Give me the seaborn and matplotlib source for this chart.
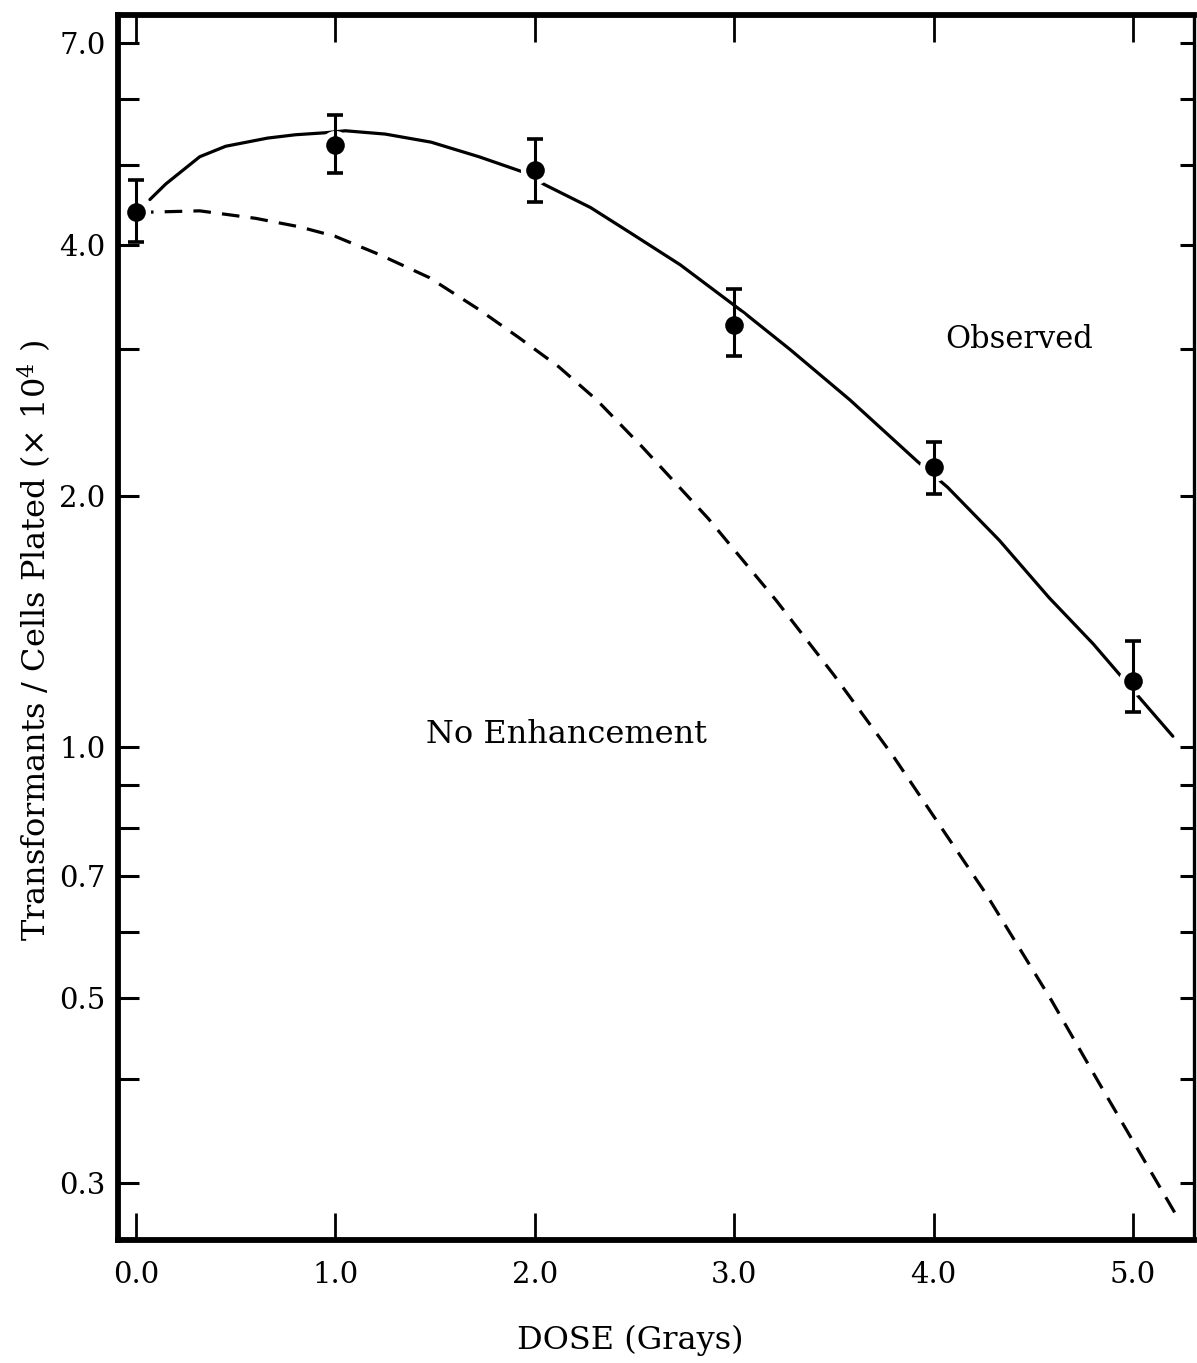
import numpy as np
import pandas as pd
import matplotlib
matplotlib.use("Agg")
import matplotlib.pyplot as plt
from matplotlib.ticker import FixedLocator, FixedFormatter
import seaborn as sns

# ---------------- data ----------------
dose_points = [0.0, 1.0, 2.0, 3.0, 4.0, 5.0]
observed_mean = [4.39, 5.28, 4.92, 3.21, 2.17, 1.20]
observed_low = [4.04, 4.89, 4.51, 2.95, 2.01, 1.10]
observed_high = [4.79, 5.74, 5.37, 3.55, 2.32, 1.34]

fit_dose = [0.07, 0.15, 0.32, 0.45, 0.66, 0.80, 0.95, 1.05, 1.25, 1.48,
            1.72, 1.94, 2.05, 2.28, 2.48, 2.73, 3.05, 3.28, 3.58, 3.92,
            4.07, 4.33, 4.58, 4.80, 5.0, 5.2]
fit_value = [4.54, 4.74, 5.11, 5.26, 5.38, 5.43, 5.46, 5.49, 5.44, 5.32,
             5.11, 4.90, 4.73, 4.44, 4.14, 3.79, 3.32, 3.00, 2.61, 2.20,
             2.05, 1.77, 1.51, 1.33, 1.17, 1.03]

noenh_dose = [0.0, 0.32, 0.60, 0.82, 1.00, 1.22, 1.47, 1.72, 1.92, 2.12,
              2.31, 2.54, 2.87, 3.21, 3.50, 3.80, 4.03, 4.26, 4.59, 4.83,
              5.21]
noenh_value = [4.38, 4.40, 4.31, 4.21, 4.10, 3.90, 3.66, 3.35, 3.10, 2.86,
               2.61, 2.29, 1.88, 1.50, 1.22, 0.973, 0.806, 0.668, 0.497,
               0.395, 0.276]

x_ticks = [0.0, 1.0, 2.0, 3.0, 4.0, 5.0]
x_ticklabels = ["0.0", "1.0", "2.0", "3.0", "4.0", "5.0"]
y_ticks = [0.3, 0.4, 0.5, 0.6, 0.7, 0.8, 0.9, 1.0, 2.0, 3.0, 4.0, 5.0, 6.0, 7.0]
y_ticklabels = ["0.3", "", "0.5", "", "0.7", "", "", "1.0", "2.0", "", "4.0", "", "", "7.0"]

# ---------------- style ----------------
sns.set_theme(style="white")
plt.rcParams["font.family"] = ["DejaVu Serif"]
plt.rcParams["mathtext.fontset"] = "dejavuserif"

W, H = 1197, 1363
fig = plt.figure(figsize=(W / 100, H / 100), dpi=100)
fig.patch.set_facecolor("white")
L, R, T, B = 118, 1194, 15, 1240
ax = fig.add_axes([L / W, 1 - B / H, (R - L) / W, (B - T) / H])
ax.set_facecolor("white")

fit_df = pd.DataFrame({"dose": fit_dose, "value": fit_value})
ne_df = pd.DataFrame({"dose": noenh_dose, "value": noenh_value})
pt_df = pd.DataFrame({"dose": dose_points, "value": observed_mean})

sns.lineplot(data=fit_df, x="dose", y="value", ax=ax, color="black",
             lw=2.3, sort=False, zorder=2)
sns.lineplot(data=ne_df, x="dose", y="value", ax=ax, color="black",
             lw=2.3, sort=False, linestyle=(0, (5.5, 3.5)), zorder=2)

# white halo around the points (gap in the curves)
ax.plot(dose_points, observed_mean, ls="none", marker="o", ms=20,
        mfc="white", mec="white", zorder=3)

yerr = [np.array(observed_mean) - np.array(observed_low),
        np.array(observed_high) - np.array(observed_mean)]
ax.errorbar(dose_points, observed_mean, yerr=yerr, fmt="none",
            ecolor="black", elinewidth=2.2, capsize=6, capthick=2.6, zorder=4)
sns.scatterplot(data=pt_df, x="dose", y="value", ax=ax, color="black",
                s=180, edgecolor="black", linewidth=0, zorder=5)

ax.set_yscale("log")
ax.set_xlim(-0.090, 5.306)
ax.set_ylim(0.256, 7.56)

ax.xaxis.set_major_locator(FixedLocator(x_ticks))
ax.xaxis.set_major_formatter(FixedFormatter(x_ticklabels))
ax.yaxis.set_major_locator(FixedLocator(y_ticks))
ax.yaxis.set_major_formatter(FixedFormatter(y_ticklabels))
ax.yaxis.set_minor_locator(FixedLocator([]))
ax.xaxis.set_minor_locator(FixedLocator([]))

ax.tick_params(axis="x", which="major", direction="in", top=True, bottom=True,
               length=19.5, width=2.0, color="black", labelsize=21, pad=15,
               labelcolor="black")
ax.tick_params(axis="y", which="major", direction="in", left=True, right=False,
               length=15, width=2.2, color="black", labelsize=21, pad=9,
               labelcolor="black")

# right-side ticks (shorter) via a twin axis
ax2 = ax.twinx()
ax2.set_yscale("log")
ax2.set_ylim(0.256, 7.56)
ax2.yaxis.set_major_locator(FixedLocator(y_ticks))
ax2.yaxis.set_minor_locator(FixedLocator([]))
ax2.tick_params(axis="y", which="major", direction="in", right=True,
                length=10, width=2.2, color="black", labelright=False)
for s in ax2.spines.values():
    s.set_visible(False)

for side in ["top", "left", "bottom"]:
    ax.spines[side].set_linewidth(4.2)
    ax.spines[side].set_color("black")
ax.spines["right"].set_linewidth(2.4)
ax.spines["right"].set_color("black")

ax.set_xlabel("DOSE (Grays)", fontsize=23, color="black")
ax.xaxis.label.set_va("center")
ax.xaxis.set_label_coords((630 - L) / (R - L), (B - 1340) / (B - T))
ax.set_ylabel("Transformants / Cells Plated (× 10$^4$ )", fontsize=23,
              color="black")
ax.yaxis.label.set_va("center")
ax.yaxis.set_label_coords((35 - L) / (R - L), (B - 640) / (B - T))

ax.text(4.43, 3.08, "Observed", fontsize=22, ha="center", va="center",
        color="black")
ax.text(2.16, 1.034, "No Enhancement", fontsize=23, ha="center",
        va="center", color="black")

fig.savefig("out.png", dpi=100, facecolor="white")
